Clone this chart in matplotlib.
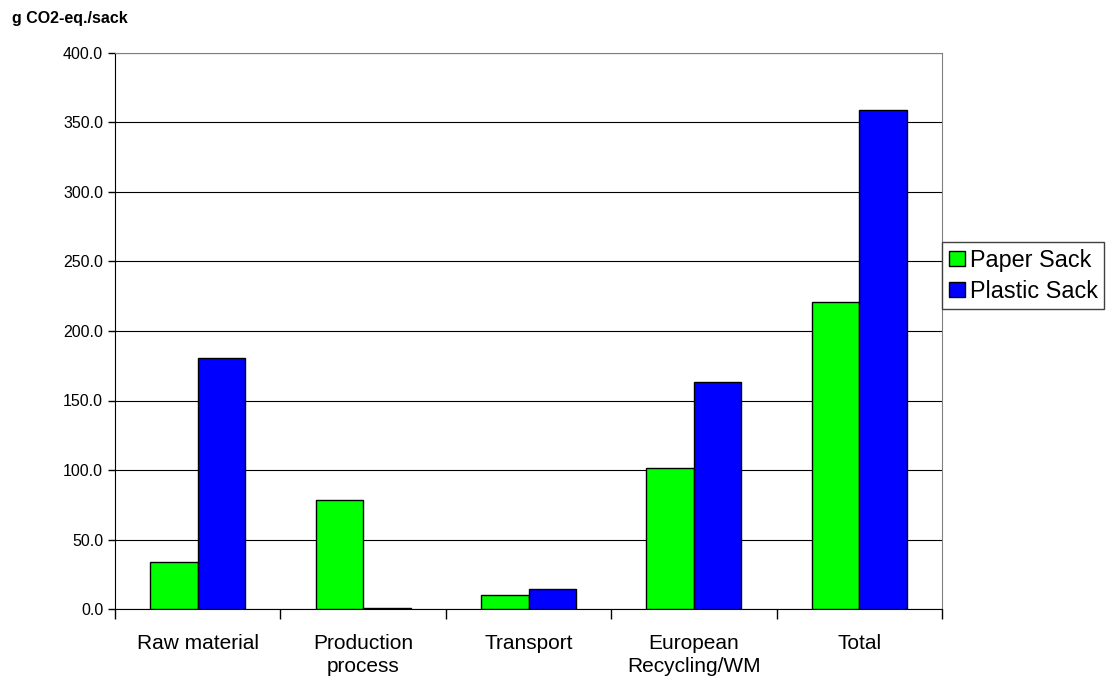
import matplotlib
matplotlib.use('Agg')
import matplotlib.pyplot as plt
import numpy as np

plt.rcParams['font.family'] = ['Liberation Sans', 'DejaVu Sans']

categories = ['Raw material', 'Production\nprocess', 'Transport', 'European\nRecycling/WM', 'Total']
paper_sack = [33.7, 78.3, 9.8, 101.2, 220.8]
plastic_sack = [180.3, 0.7, 14.4, 163.3, 358.9]
series_names = ['Paper Sack', 'Plastic Sack']
yticks = [0, 50, 100, 150, 200, 250, 300, 350, 400]

fig = plt.figure(figsize=(11.1, 6.77), dpi=100)
ax = fig.add_axes([115 / 1110, 1 - 609 / 677, (942 - 115) / 1110, (609 - 53) / 677])

x = np.arange(len(categories))
w = 0.2875
ax.bar(x - w / 2, paper_sack, w, color='#00ff00', edgecolor='black', linewidth=1, label=series_names[0], zorder=3)
ax.bar(x + w / 2, plastic_sack, w, color='#0000ff', edgecolor='black', linewidth=1, label=series_names[1], zorder=3)

ax.set_xlim(-0.5, len(categories) - 0.5)
ax.set_ylim(0, 400)
ax.set_yticks(yticks)
ax.set_yticklabels(['%.1f' % v for v in yticks], fontsize=11.5)
ax.yaxis.grid(True, color='black', linewidth=0.8, zorder=0)
ax.set_axisbelow(True)

# tick marks between categories, labels at the centres
ax.set_xticks(np.arange(len(categories) + 1) - 0.5)
ax.set_xticklabels([])
ax.set_xticks(x, minor=True)
ax.set_xticklabels(categories, minor=True, fontsize=15, linespacing=1.3)
ax.tick_params(axis='x', which='major', direction='out', length=7, width=1)
ax.tick_params(axis='x', which='minor', length=0, pad=18)
ax.tick_params(axis='y', direction='out', length=5, width=1, pad=3.5)

ax.spines['top'].set_color('#808080')
ax.spines['right'].set_color('#808080')
ax.spines['left'].set_color('black')
ax.spines['bottom'].set_color('black')

fig.text(12 / 1110, 1 - 23 / 677, 'g CO2-eq./sack', fontsize=11.5, fontweight='bold', va='baseline')

leg = fig.legend(loc='upper left', bbox_to_anchor=(942 / 1110, 1 - 242 / 677), fontsize=16.8,
                 handlelength=0.7, handleheight=0.6, handletextpad=0.2, borderpad=0.28,
                 labelspacing=0.35, borderaxespad=0, fancybox=False, framealpha=1,
                 edgecolor='#404040')
leg.get_frame().set_linewidth(1)

fig.savefig('out.png', dpi=100)
